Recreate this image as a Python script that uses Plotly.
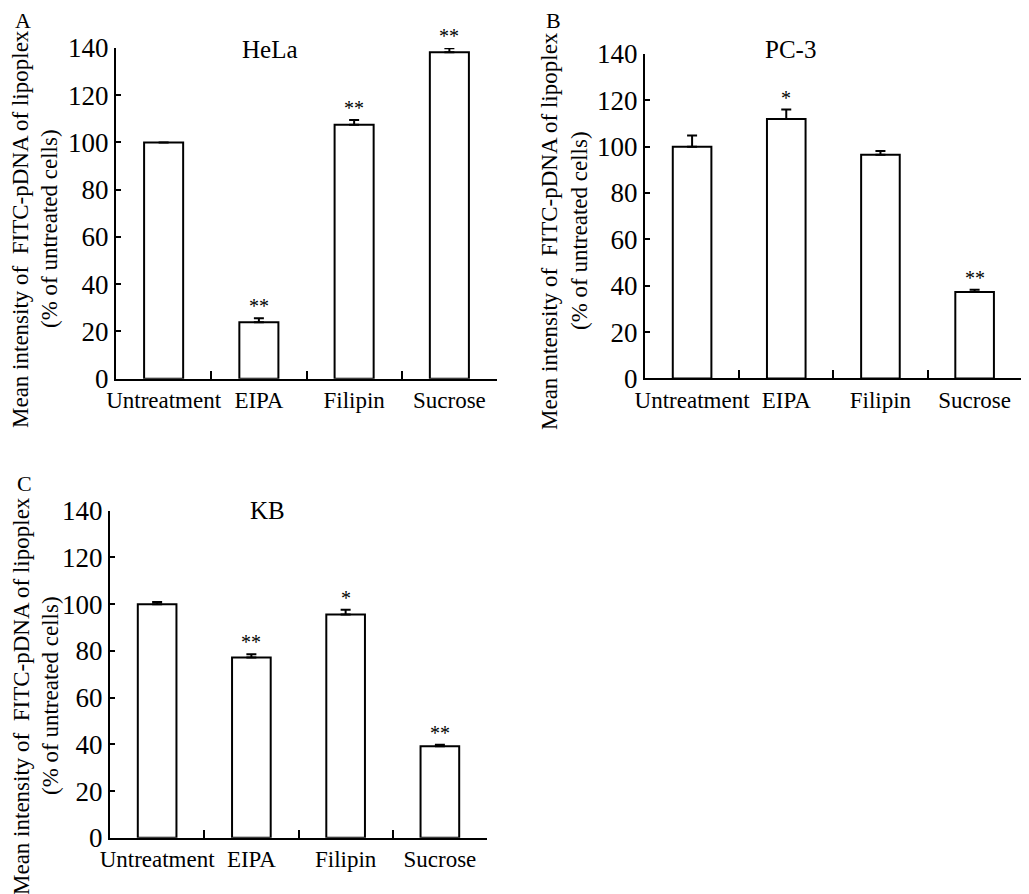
import plotly.graph_objects as go

categories = ["Untreatment", "EIPA", "Filipin", "Sucrose"]

hela_values = [100, 23.9, 107.5, 138.2]
hela_errors = [0, 1.7, 2.0, 1.7]
hela_sig = ["", "**", "**", "**"]

pc3_values = [100, 112, 96.5, 37.3]
pc3_errors = [4.8, 4.0, 1.6, 1.0]
pc3_sig = ["", "*", "", "**"]

kb_values = [100, 77.2, 95.6, 39.2]
kb_errors = [0.9, 1.4, 2.0, 0.6]
kb_sig = ["", "**", "*", "**"]

y_ticks = [0, 20, 40, 60, 80, 100, 120, 140]

ytitle_line1 = "Mean intensity of\u00a0 FITC-pDNA of lipoplex"
ytitle_line2 = "(% of untreated cells)"

# the page body has an 8px default margin; lay out in window pixels and compensate
PAGE_MARGIN = 8
W, H = 1029 - PAGE_MARGIN, 894 - PAGE_MARGIN
FONT = "Liberation Serif"


def px_x(v):
    return (v - PAGE_MARGIN) / W


def px_y(v):
    return 1 - (v - PAGE_MARGIN) / H


panels = [
    # name, values, errors, sig, (x0,x1 px), (ytop,ybottom px), title pos, label, label pos, ytitle (x1, x2, yc)
    ("HeLa", hela_values, hela_errors, hela_sig, (116, 497), (48, 378.7), (270, 49.5), "A", (23, 20), (21, 50, 229)),
    ("PC-3", pc3_values, pc3_errors, pc3_sig, (645, 1021.7), (54, 378.4), (790, 50), "B", (553, 20), (550, 580, 231)),
    ("KB", kb_values, kb_errors, kb_sig, (110, 487), (510.7, 837.8), (267, 510), "C", (24, 483), (21, 50, 696)),
]

fig = go.Figure()
annotations = []

for i, (name, vals, errs, sig, (x0, x1), (yt, yb), tpos, lab, lpos, ytpos) in enumerate(panels):
    n = "" if i == 0 else str(i + 1)
    xa = "x" + n
    ya = "y" + n
    fig.add_trace(go.Bar(
        x=categories, y=vals, xaxis=xa, yaxis=ya,
        width=0.41,
        marker=dict(color="white", line=dict(color="black", width=2)),
        error_y=dict(type="data", symmetric=False, array=errs,
                     arrayminus=[0] * len(errs), color="black",
                     thickness=2, width=5),
        showlegend=False, hoverinfo="skip",
    ))
    fig.layout["xaxis" + n] = dict(
        domain=[px_x(x0), px_x(x1)], anchor=ya,
        type="category", range=[-0.5, 3.5],
        showline=True, linecolor="black", linewidth=2,
        ticks="inside", tickson="boundaries", ticklen=8, tickwidth=2, tickcolor="black",
        showgrid=False, zeroline=False, automargin=False, tickangle=0,
        tickfont=dict(family=FONT, size=23, color="black"),
    )
    fig.layout["yaxis" + n] = dict(
        domain=[px_y(yb), px_y(yt)], anchor=xa,
        range=[0, 140], tickvals=y_ticks,
        showline=True, linecolor="black", linewidth=2,
        ticks="inside", ticklen=5, tickwidth=2, tickcolor="black",
        showgrid=False, zeroline=False, automargin=False,
        ticklabelstandoff=0,
        tickfont=dict(family=FONT, size=27, color="black"),
    )
    # significance marks
    for c, v, e, s in zip(categories, vals, errs, sig):
        if s:
            annotations.append(dict(
                x=c, y=v + e, xref=xa, yref=ya, text=s, showarrow=False,
                yanchor="bottom", yshift=-1,
                font=dict(family=FONT, size=20, color="black"),
            ))
    # panel title
    annotations.append(dict(
        x=px_x(tpos[0]), y=px_y(tpos[1]), xref="paper", yref="paper",
        text=name, showarrow=False, xanchor="center", yanchor="middle",
        font=dict(family=FONT, size=25, color="black"),
    ))
    # panel letter
    annotations.append(dict(
        x=px_x(lpos[0]), y=px_y(lpos[1]), xref="paper", yref="paper",
        text=lab, showarrow=False, xanchor="center", yanchor="middle",
        font=dict(family=FONT, size=22, color="black"),
    ))
    # y-axis title, two lines
    for xpos, txt in ((ytpos[0], ytitle_line1), (ytpos[1], ytitle_line2)):
        annotations.append(dict(
            x=px_x(xpos), y=px_y(ytpos[2]), xref="paper", yref="paper",
            text=txt, showarrow=False, xanchor="center", yanchor="middle", textangle=-90,
            font=dict(family=FONT, size=23, color="black"),
        ))

fig.update_layout(
    width=W, height=H,
    margin=dict(l=0, r=0, t=0, b=0),
    paper_bgcolor="white", plot_bgcolor="white",
    annotations=annotations,
    bargap=0.59,
    font=dict(family=FONT, color="black"),
)

fig.write_html("out.html")
